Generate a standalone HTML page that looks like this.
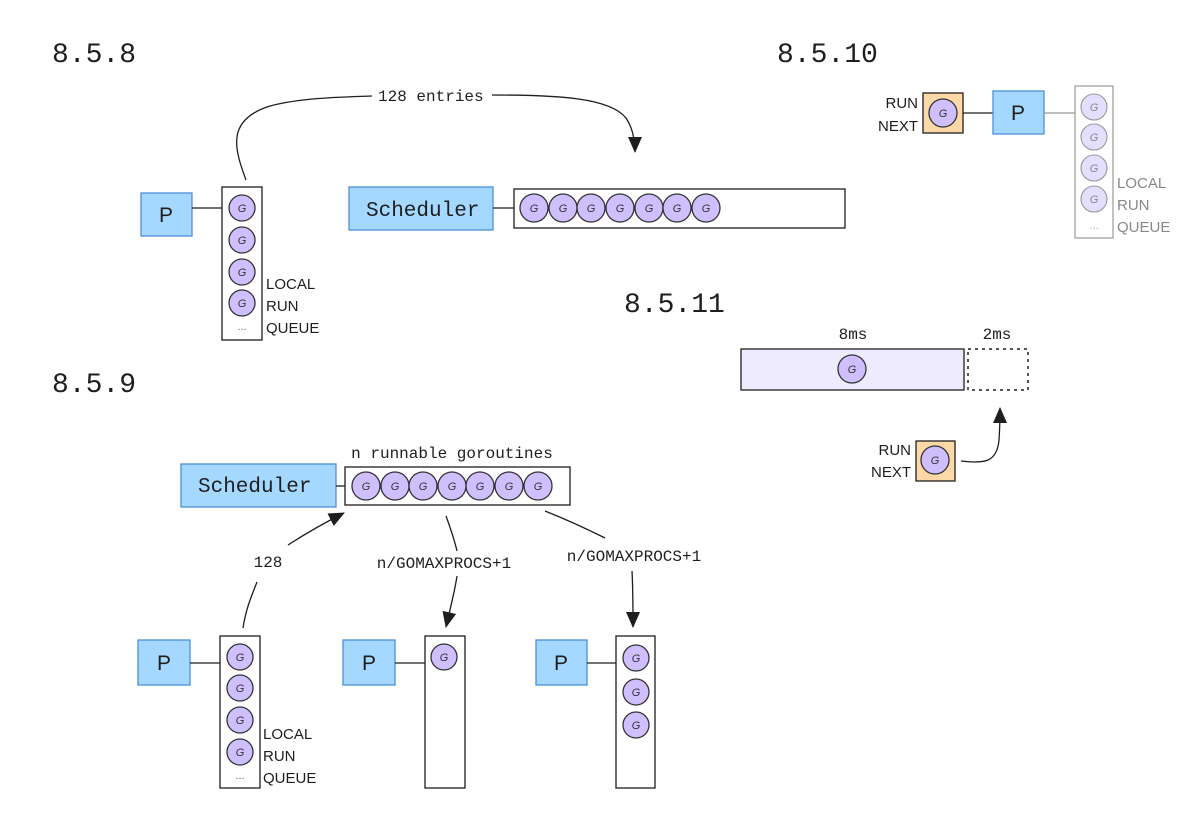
<!DOCTYPE html>
<html><head><meta charset="utf-8"><style>
html,body{margin:0;padding:0;background:#fff;}
svg{display:block;}
.t{font-family:"Liberation Mono",monospace;font-size:28px;fill:#1e1e1e;}
.m{font-family:"Liberation Mono",monospace;font-size:16px;fill:#1e1e1e;}
.s{font-family:"Liberation Sans",sans-serif;font-size:15px;fill:#1e1e1e;}
.big{font-family:"Liberation Mono",monospace;font-size:21px;fill:#1e1e1e;}
.p{font-family:"Liberation Sans",sans-serif;font-size:21px;fill:#1e1e1e;}
.g{font-family:"Liberation Sans",sans-serif;font-size:11px;font-style:italic;fill:#333;text-anchor:middle;}
.gc{fill:#d0bfff;stroke:#333;stroke-width:1.3;}
.fc{fill:#e5dfff;stroke:#999;stroke-width:1.1;}
.bx{fill:#a5d8ff;stroke:#4a90d9;stroke-width:1.3;}
.q{fill:#fff;stroke:#1e1e1e;stroke-width:1.3;}
.ln{stroke:#1e1e1e;stroke-width:1.3;fill:none;}
</style></head><body>
<svg width="1200" height="822" viewBox="0 0 1200 822" xmlns="http://www.w3.org/2000/svg">
<defs>
<marker id="ar2" markerWidth="16" markerHeight="16" refX="15" refY="8" orient="auto" markerUnits="userSpaceOnUse"><path d="M0,1 L16,8 L0,15 z" fill="#1e1e1e"/></marker></defs>

<text class="t" x="52" y="62">8.5.8</text>
<text class="t" x="777" y="62">8.5.10</text>
<text class="t" x="624" y="312">8.5.11</text>
<text class="t" x="52" y="392">8.5.9</text>

<!-- 8.5.8 -->
<rect class="bx" x="141" y="193" width="51" height="43"/>
<text class="p" x="159" y="222">P</text>
<line class="ln" x1="192" y1="208" x2="222" y2="208"/>
<rect class="q" x="222" y="187" width="40" height="153"/>
<circle class="gc" cx="242" cy="208" r="13"/><text class="g" x="242" y="212">G</text>
<circle class="gc" cx="242" cy="240" r="13"/><text class="g" x="242" y="244">G</text>
<circle class="gc" cx="242" cy="272" r="13"/><text class="g" x="242" y="276">G</text>
<circle class="gc" cx="242" cy="303" r="13"/><text class="g" x="242" y="307">G</text>
<text class="g" x="242" y="330" style="font-style:normal;fill:#666">...</text>
<text class="s" x="266" y="289">LOCAL</text>
<text class="s" x="266" y="311">RUN</text>
<text class="s" x="266" y="333">QUEUE</text>
<path class="ln" d="M246,180 C235,150 225,120 270,106 C300,98 340,97 372,96"/>
<text class="m" x="378" y="101">128 entries</text>
<path class="ln" d="M492,95 C560,95 610,98 626,118 C634,130 635,145 635,152" marker-end="url(#ar2)"/>
<rect class="bx" x="349" y="187" width="144" height="43"/>
<text class="big" x="366" y="216">Scheduler</text>
<line class="ln" x1="493" y1="208" x2="514" y2="208"/>
<rect class="q" x="514" y="189" width="331" height="39"/>
<circle class="gc" cx="534" cy="208" r="14"/><text class="g" x="534" y="212">G</text>
<circle class="gc" cx="563" cy="208" r="14"/><text class="g" x="563" y="212">G</text>
<circle class="gc" cx="591" cy="208" r="14"/><text class="g" x="591" y="212">G</text>
<circle class="gc" cx="620" cy="208" r="14"/><text class="g" x="620" y="212">G</text>
<circle class="gc" cx="649" cy="208" r="14"/><text class="g" x="649" y="212">G</text>
<circle class="gc" cx="677" cy="208" r="14"/><text class="g" x="677" y="212">G</text>
<circle class="gc" cx="706" cy="208" r="14"/><text class="g" x="706" y="212">G</text>

<!-- 8.5.10 -->
<text class="s" x="918" y="108" text-anchor="end">RUN</text>
<text class="s" x="918" y="131" text-anchor="end">NEXT</text>
<rect x="923" y="93" width="40" height="40" fill="#ffd8a8" stroke="#1e1e1e" stroke-width="1.3"/>
<circle class="gc" cx="943" cy="113" r="14"/><text class="g" x="943" y="117">G</text>
<line class="ln" x1="963" y1="113" x2="993" y2="113"/>
<rect class="bx" x="993" y="91" width="51" height="43"/>
<text class="p" x="1011" y="120">P</text>
<line x1="1044" y1="113" x2="1075" y2="113" stroke="#999" stroke-width="1.2"/>
<rect x="1075" y="86" width="38" height="152" fill="#fff" stroke="#999" stroke-width="1.2"/>
<circle class="fc" cx="1094" cy="107" r="13"/><text class="g" x="1094" y="111" style="fill:#888">G</text>
<circle class="fc" cx="1094" cy="137" r="13"/><text class="g" x="1094" y="141" style="fill:#888">G</text>
<circle class="fc" cx="1094" cy="168" r="13"/><text class="g" x="1094" y="172" style="fill:#888">G</text>
<circle class="fc" cx="1094" cy="199" r="13"/><text class="g" x="1094" y="203" style="fill:#888">G</text>
<text class="g" x="1094" y="229" style="font-style:normal;fill:#aaa">...</text>
<text class="s" x="1117" y="188" style="fill:#888">LOCAL</text>
<text class="s" x="1117" y="210" style="fill:#888">RUN</text>
<text class="s" x="1117" y="232" style="fill:#888">QUEUE</text>

<!-- 8.5.11 -->
<text class="m" x="853" y="339" text-anchor="middle">8ms</text>
<text class="m" x="997" y="339" text-anchor="middle">2ms</text>
<rect x="741" y="349" width="223" height="41" fill="#efebff" stroke="#1e1e1e" stroke-width="1.3"/>
<circle class="gc" cx="852" cy="369" r="14"/><text class="g" x="852" y="373">G</text>
<rect x="968" y="349" width="60" height="41" fill="none" stroke="#1e1e1e" stroke-width="1.5" stroke-dasharray="3,4"/>
<text class="s" x="911" y="455" text-anchor="end">RUN</text>
<text class="s" x="911" y="477" text-anchor="end">NEXT</text>
<rect x="916" y="441" width="39" height="40" fill="#ffd8a8" stroke="#1e1e1e" stroke-width="1.3"/>
<circle class="gc" cx="935" cy="460" r="14"/><text class="g" x="935" y="464">G</text>
<path class="ln" d="M961,461 C985,464 997,462 999,440 C1000,425 1000,415 1000,408" marker-end="url(#ar2)"/>

<!-- 8.5.9 -->
<text class="m" x="452" y="458" text-anchor="middle">n runnable goroutines</text>
<rect class="bx" x="181" y="464" width="155" height="43"/>
<text class="big" x="198" y="492">Scheduler</text>
<line class="ln" x1="336" y1="486" x2="345" y2="486"/>
<rect class="q" x="345" y="467" width="225" height="38"/>
<circle class="gc" cx="366" cy="486" r="14"/><text class="g" x="366" y="490">G</text>
<circle class="gc" cx="395" cy="486" r="14"/><text class="g" x="395" y="490">G</text>
<circle class="gc" cx="423" cy="486" r="14"/><text class="g" x="423" y="490">G</text>
<circle class="gc" cx="452" cy="486" r="14"/><text class="g" x="452" y="490">G</text>
<circle class="gc" cx="480" cy="486" r="14"/><text class="g" x="480" y="490">G</text>
<circle class="gc" cx="509" cy="486" r="14"/><text class="g" x="509" y="490">G</text>
<circle class="gc" cx="538" cy="486" r="14"/><text class="g" x="538" y="490">G</text>

<path class="ln" d="M243,628 C246,608 252,595 257,582"/>
<text class="m" x="268" y="567" text-anchor="middle">128</text>
<path class="ln" d="M288,545 C305,534 322,524 344,513" marker-end="url(#ar2)"/>
<path class="ln" d="M446,516 C450,527 454,538 457,551"/>
<text class="m" x="444" y="568" text-anchor="middle">n/GOMAXPROCS+1</text>
<path class="ln" d="M457,576 C455,590 451,605 446,627" marker-end="url(#ar2)"/>
<path class="ln" d="M545,511 C565,519 585,528 605,538"/>
<text class="m" x="634" y="561" text-anchor="middle">n/GOMAXPROCS+1</text>
<path class="ln" d="M632,571 C633,590 633,605 633,627" marker-end="url(#ar2)"/>

<rect class="bx" x="138" y="640" width="52" height="45"/>
<text class="p" x="157" y="670">P</text>
<line class="ln" x1="190" y1="663" x2="220" y2="663"/>
<rect class="q" x="220" y="636" width="40" height="152"/>
<circle class="gc" cx="240" cy="657" r="13"/><text class="g" x="240" y="661">G</text>
<circle class="gc" cx="240" cy="688" r="13"/><text class="g" x="240" y="692">G</text>
<circle class="gc" cx="240" cy="720" r="13"/><text class="g" x="240" y="724">G</text>
<circle class="gc" cx="240" cy="752" r="13"/><text class="g" x="240" y="756">G</text>
<text class="g" x="240" y="779" style="font-style:normal;fill:#666">...</text>
<text class="s" x="263" y="739">LOCAL</text>
<text class="s" x="263" y="761">RUN</text>
<text class="s" x="263" y="783">QUEUE</text>

<rect class="bx" x="343" y="640" width="52" height="45"/>
<text class="p" x="362" y="670">P</text>
<line class="ln" x1="395" y1="663" x2="425" y2="663"/>
<rect class="q" x="425" y="636" width="40" height="152"/>
<circle class="gc" cx="444" cy="657" r="13"/><text class="g" x="444" y="661">G</text>

<rect class="bx" x="536" y="640" width="51" height="45"/>
<text class="p" x="554" y="670">P</text>
<line class="ln" x1="587" y1="663" x2="616" y2="663"/>
<rect class="q" x="616" y="636" width="39" height="152"/>
<circle class="gc" cx="636" cy="658" r="13"/><text class="g" x="636" y="662">G</text>
<circle class="gc" cx="636" cy="692" r="13"/><text class="g" x="636" y="696">G</text>
<circle class="gc" cx="636" cy="725" r="13"/><text class="g" x="636" y="729">G</text>
</svg>
</body></html>
